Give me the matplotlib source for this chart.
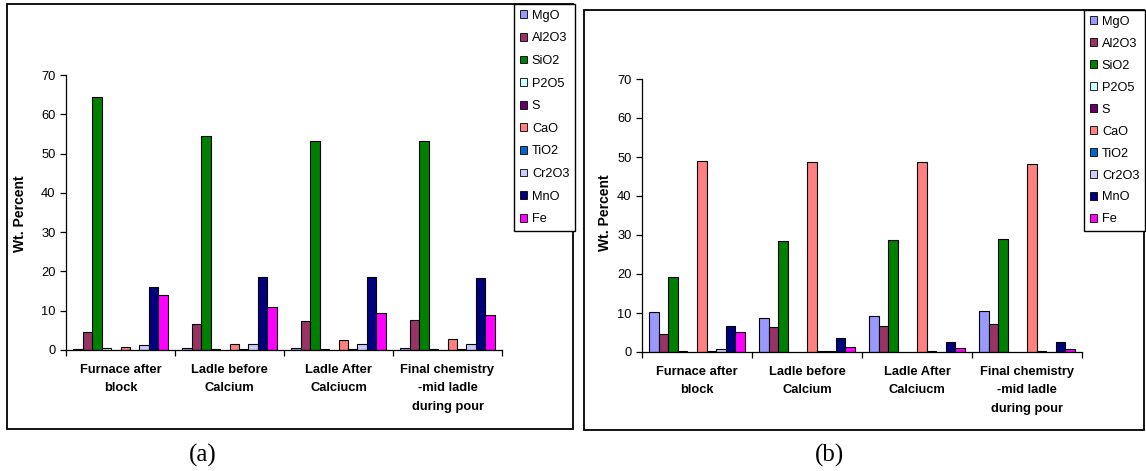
import matplotlib
matplotlib.use("Agg")
import matplotlib.pyplot as plt
from matplotlib.patches import Rectangle, Patch
import numpy as np

plt.rcParams["font.family"] = ["Liberation Sans", "DejaVu Sans"]

# ---- data -------------------------------------------------------------
categories = ["Furnace after\nblock", "Ladle before\nCalcium",
              "Ladle After\nCalciucm", "Final chemistry\n-mid ladle\nduring pour"]
oxides = ["MgO", "Al2O3", "SiO2", "P2O5", "S", "CaO", "TiO2", "Cr2O3", "MnO", "Fe"]
colors = ["#9999FF", "#993366", "#008000", "#CCFFFF", "#660066",
          "#FF8080", "#0066CC", "#CCCCFF", "#000080", "#FF00FF"]

# (a) slag composition, one list per oxide across the four stages
a_MgO = [0.2, 0.5, 0.5, 0.5]
a_Al2O3 = [4.5, 6.6, 7.4, 7.6]
a_SiO2 = [64.3, 54.5, 53.2, 53.2]
a_P2O5 = [0.5, 0.2, 0.2, 0.2]
a_S = [0.0, 0.0, 0.0, 0.0]
a_CaO = [0.75, 1.5, 2.5, 2.9]
a_TiO2 = [0.0, 0.2, 0.2, 0.2]
a_Cr2O3 = [1.3, 1.5, 1.5, 1.5]
a_MnO = [16.1, 18.7, 18.7, 18.4]
a_Fe = [14.0, 11.0, 9.5, 8.9]

# (b) slag composition
b_MgO = [10.2, 8.7, 9.3, 10.5]
b_Al2O3 = [4.7, 6.4, 6.7, 7.3]
b_SiO2 = [19.3, 28.5, 28.8, 29.0]
b_P2O5 = [0.2, 0.0, 0.0, 0.0]
b_S = [0.0, 0.0, 0.0, 0.0]
b_CaO = [49.0, 48.7, 48.7, 48.2]
b_TiO2 = [0.2, 0.2, 0.2, 0.2]
b_Cr2O3 = [0.85, 0.2, 0.0, 0.0]
b_MnO = [6.7, 3.6, 2.6, 2.6]
b_Fe = [5.1, 1.3, 1.0, 0.8]

yticks = [0, 10, 20, 30, 40, 50, 60, 70]

series_a = [a_MgO, a_Al2O3, a_SiO2, a_P2O5, a_S, a_CaO, a_TiO2, a_Cr2O3, a_MnO, a_Fe]
series_b = [b_MgO, b_Al2O3, b_SiO2, b_P2O5, b_S, b_CaO, b_TiO2, b_Cr2O3, b_MnO, b_Fe]

# ---- layout (pixel geometry of the 1146 x 471 canvas) ------------------
W, H = 1146, 471
fig = plt.figure(figsize=(W / 100, H / 100), dpi=100)


def fx(x):
    return x / W


def fy(y):
    return 1 - y / H


def frame(x0, y0, x1, y1):
    fig.add_artist(Rectangle((fx(x0), fy(y1)), (x1 - x0) / W, (y1 - y0) / H,
                             fill=False, ec="black", lw=1.3,
                             transform=fig.transFigure))


def panel(series, box, axpx, legxy, legspace, letter, letter_xy, ylab_xy):
    frame(*box)
    x0, y0, x1, y1 = axpx
    ax = fig.add_axes([fx(x0), fy(y1), (x1 - x0) / W, (y1 - y0) / H])
    n = len(series)
    slot = 1 / (n + 1.5)  # Excel-style gap width of 150 %
    idx = np.arange(len(categories))
    for j, (vals, c) in enumerate(zip(series, colors)):
        xs = idx + slot * (0.75 + j + 0.5)
        bars = ax.bar(xs, vals, width=slot, color=c, edgecolor="black",
                      linewidth=0.8, zorder=2)
        for rect, v in zip(bars, vals):
            if v <= 0:
                rect.set_visible(False)
    ax.set_xlim(0, len(categories))
    ax.set_ylim(0, 70)
    ax.set_yticks(yticks)
    ax.set_yticklabels([str(t) for t in yticks])
    ax.set_xticks(np.arange(len(categories) + 1))
    ax.set_xticklabels([])
    ax.set_xticks(idx + 0.5, minor=True)
    ax.set_xticklabels(categories, minor=True, fontweight="bold",
                       fontsize=9.3, linespacing=1.72)
    ax.tick_params(axis="x", which="minor", length=0, pad=10)
    ax.tick_params(axis="x", which="major", direction="out", length=4.5,
                   width=0.9)
    ax.tick_params(axis="y", direction="out", length=4.5, width=0.9,
                   labelsize=9.3, pad=3)
    for s in ("top", "right"):
        ax.spines[s].set_visible(False)
    for s in ("left", "bottom"):
        ax.spines[s].set_linewidth(0.9)
    ax.patch.set_alpha(0)

    fig.text(fx(ylab_xy[0]), fy(ylab_xy[1]), "Wt. Percent", rotation=90,
             fontweight="bold", fontsize=10, ha="center", va="center")

    handles = [Patch(facecolor=c, edgecolor="black", linewidth=0.6)
               for c in colors]
    leg = fig.legend(handles, oxides, loc="upper left",
                     bbox_to_anchor=(fx(legxy[0]), fy(legxy[1])),
                     bbox_transform=fig.transFigure, borderaxespad=0,
                     fancybox=False, edgecolor="black", framealpha=1,
                     fontsize=9.2, handlelength=0.55, handleheight=0.55,
                     handletextpad=0.4, labelspacing=legspace, borderpad=0.45)
    leg.get_frame().set_linewidth(1.0)

    fig.text(fx(letter_xy[0]), fy(letter_xy[1]), letter,
             family="Liberation Serif", fontsize=18, ha="center", va="center")
    return ax


panel(series_a, (7, 4, 573, 429), (66, 75, 502, 350), (514, 4), 0.83, "(a)",
      (203, 455), (20, 214))
panel(series_b, (584, 10, 1144, 430), (642, 79, 1082, 352), (1084, 10), 0.78,
      "(b)", (829, 455), (605, 213))

fig.savefig("out.png", dpi=100)
